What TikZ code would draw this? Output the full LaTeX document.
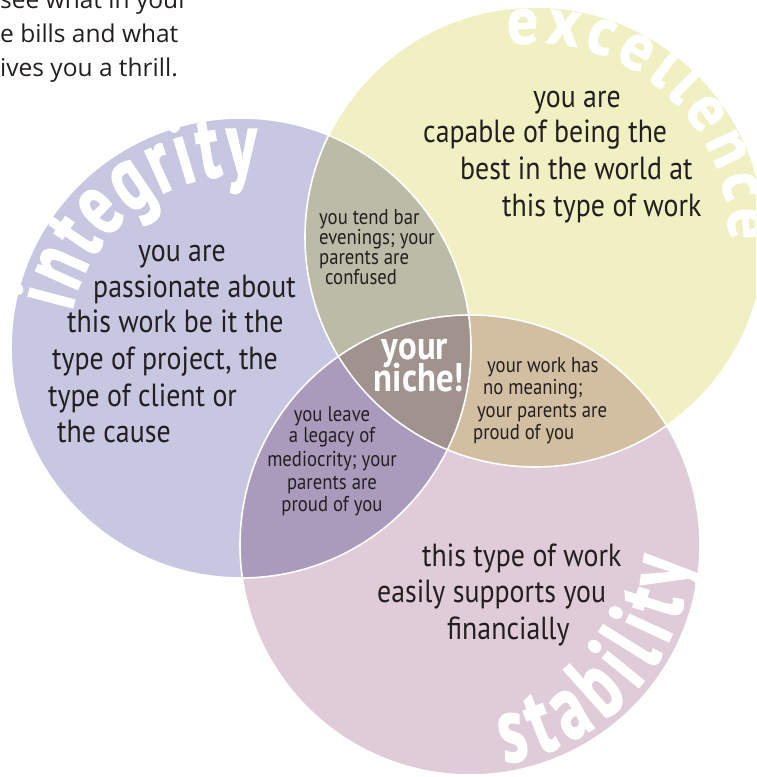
\documentclass[tikz,border=0pt]{standalone}
\usepackage{fontspec}
\usetikzlibrary{decorations.text}
\newfontfamily\bodyfont[FakeStretch=0.87]{PT Sans}
\newfontfamily\lblfont[FakeStretch=0.68,FakeBold=1.5]{PT Sans Bold}
\newfontfamily\lblwidefont[FakeStretch=0.92,FakeBold=1.5]{PT Sans Bold}
\newfontfamily\topfont{Open Sans}
\definecolor{icol}{RGB}{200,199,225}
\definecolor{ecol}{RGB}{240,240,194}
\definecolor{scol}{RGB}{224,204,217}
\definecolor{iecol}{RGB}{187,187,167}
\definecolor{iscol}{RGB}{170,155,189}
\definecolor{escol}{RGB}{210,191,162}
\definecolor{allcol}{RGB}{160,146,141}
\definecolor{txt}{RGB}{35,31,32}
\begin{document}
\begin{tikzpicture}[x=1pt,y=1pt]
\tikzset{
  body/.style={font=\bodyfont\fontsize{32}{36}\selectfont, text=txt, anchor=base west, inner sep=0pt},
  small/.style={font=\bodyfont\fontsize{21.5}{22}\selectfont, text=txt, anchor=base west, inner sep=0pt},
  smallc/.style={small, anchor=base},
  nichetxt/.style={font=\bodyfont\bfseries\fontsize{40}{40}\selectfont, text=white, anchor=base, inner sep=0pt},
  toptxt/.style={font=\topfont\fontsize{24.5}{24.5}\selectfont, text=txt, anchor=base west, inner sep=0pt},
  ring/.style={draw=white, line width=1.6pt},
  lbl/.style={decorate, decoration={text along path, text color=white, text align={fit to path}, text={#1}}},
}
\useasboundingbox (0,0) rectangle (756,777);
\clip (0,0) rectangle (756,777);
\coordinate (I) at (241,429);
\coordinate (E) at (535,540);
\coordinate (S) at (470,232);
% regions
\fill[icol] (I) circle (230);
\fill[ecol] (E) circle (230);
\fill[scol] (S) circle (230);
\begin{scope}\clip (I) circle (230); \fill[iecol] (E) circle (230);\end{scope}
\begin{scope}\clip (I) circle (230); \fill[iscol] (S) circle (230);\end{scope}
\begin{scope}\clip (E) circle (230); \fill[escol] (S) circle (230);\end{scope}
\begin{scope}\clip (I) circle (230); \clip (E) circle (230); \fill[allcol] (S) circle (230);\end{scope}
\draw[ring] (I) circle (230);
\draw[ring] (E) circle (230);
\draw[ring] (S) circle (230);
% curved labels
\path[lbl={|\lblfont\fontsize{92}{92}\selectfont|integrity}]
  ([shift={(I)}]168:173) arc[start angle=168, end angle=85, radius=173];
\path[lbl={|\lblwidefont\fontsize{67}{67}\selectfont|excellence}]
  ([shift={(E)}]98:194) arc[start angle=98, end angle=-1, radius=194];
\path[lbl={|\lblfont\fontsize{94}{94}\selectfont|stability}]
  ([shift={(S)}]-81:221) arc[start angle=-81, end angle=-4, radius=221];
% top-left text
\node[toptxt] (tl1) at (0,768) {see what in your};
\node[toptxt] (tl2) at (0,734) {e bills and what};
\node[toptxt] (tl3) at (0,700) {ives you a thrill.};
% integrity body
\node[body] (ib1) at (138,515) {you are};
\node[body] (ib2) at (93,479) {passionate about};
\node[body] (ib3) at (67,444) {this work be it the};
\node[body] (ib4) at (52,407) {type of project, the};
\node[body] (ib5) at (48,370) {type of client or};
\node[body] (ib6) at (57,334) {the cause};
% excellence body
\node[body] (eb1) at (533,669) {you are};
\node[body] (eb2) at (423,634) {capable of being the};
\node[body] (eb3) at (460,597) {best in the world at};
\node[body] (eb4) at (502,560) {this type of work};
% stability body
\node[body] (sb1) at (422,210) {this type of work};
\node[body] (sb2) at (377,174) {easily supports you};
\node[body] (sb3) at (447,137) {financially};
% integrity & excellence
\node[small] (ie1) at (319,552) {you tend bar};
\node[small] (ie2) at (319,532) {evenings; your};
\node[small] (ie3) at (319,512) {parents are};
\node[small] (ie4) at (325,492) {confused};
% excellence & stability
\node[small] (es1) at (487,404) {your work has};
\node[small] (es2) at (483,382) {no meaning;};
\node[small] (es3) at (477,359) {your parents are};
\node[small] (es4) at (473,337) {proud of you};
% integrity & stability
\node[smallc] (is1) at (332,355) {you leave};
\node[smallc] (is2) at (332,334) {a legacy of};
\node[smallc] (is3) at (332,310) {mediocrity; your};
\node[smallc] (is4) at (332,287) {parents are};
\node[smallc] (is5) at (332,265) {proud of you};
% niche
\node[nichetxt] (n1) at (415,417) {your};
\node[nichetxt] (n2) at (419,385) {niche!};
\end{tikzpicture}
\end{document}
